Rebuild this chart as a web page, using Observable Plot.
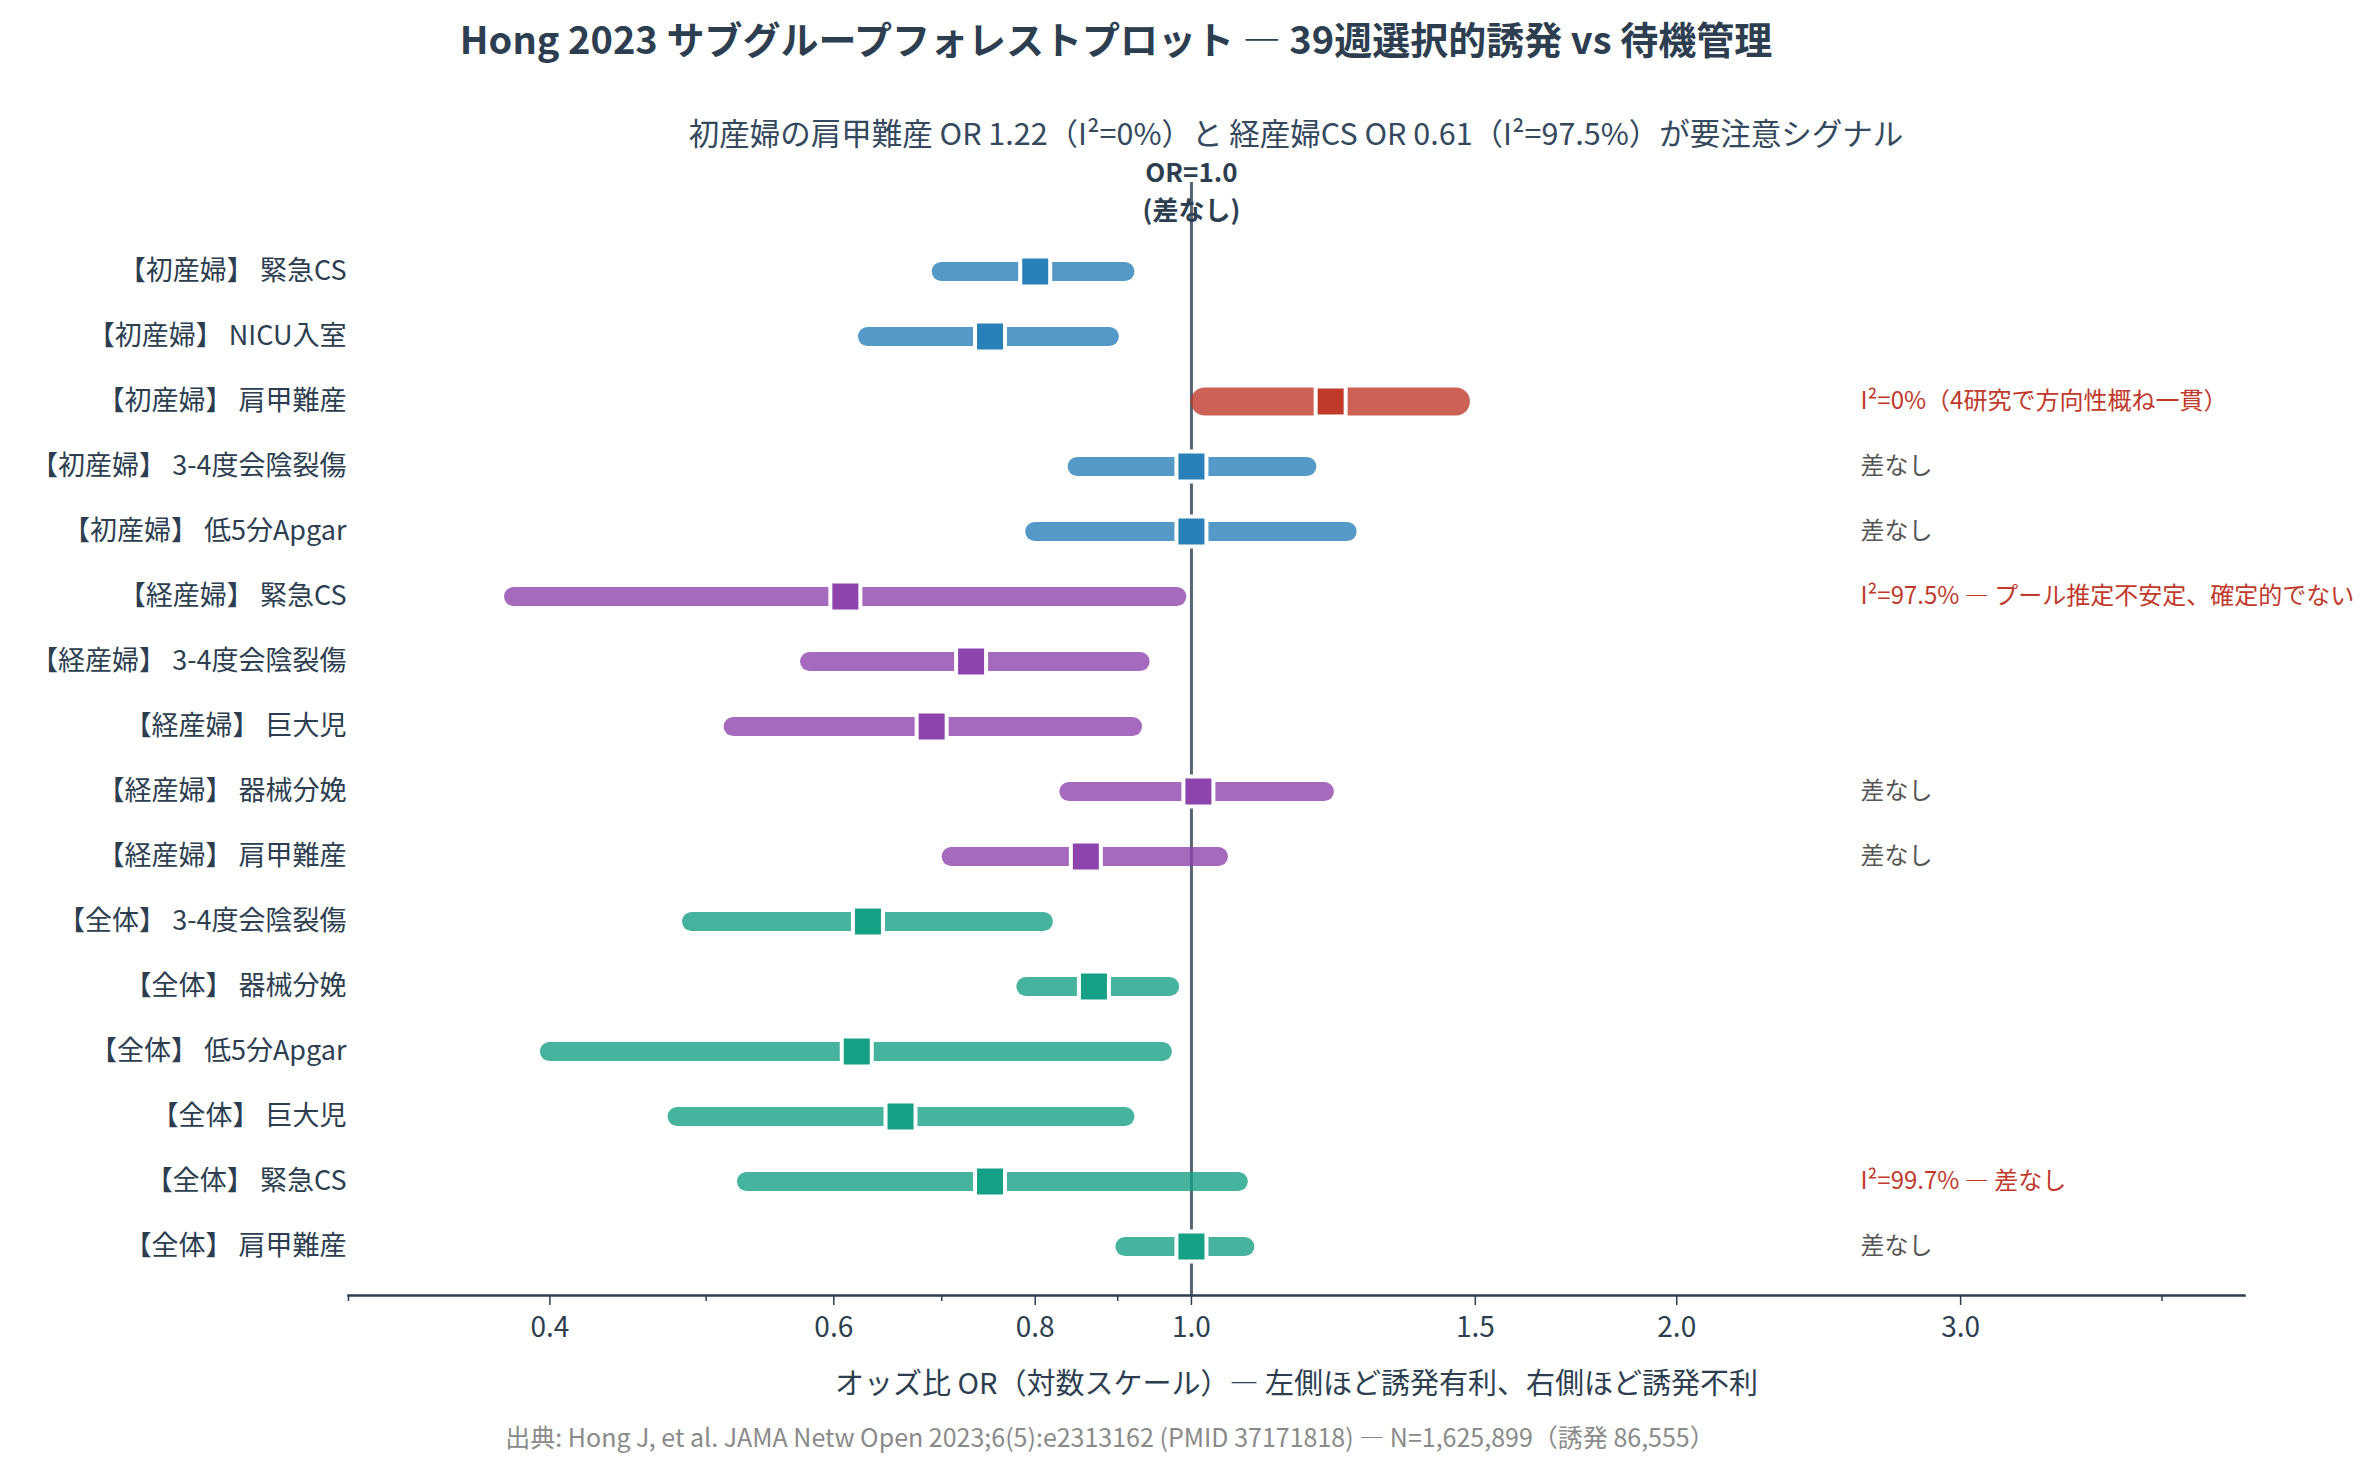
<!DOCTYPE html>
<html lang="ja">
<head>
<meta charset="utf-8">
<title>Hong 2023 サブグループフォレストプロット</title>
<script src="https://cdn.jsdelivr.net/npm/d3@7"></script>
<script src="https://cdn.jsdelivr.net/npm/@observablehq/plot@0.6"></script>
<style>
  body { margin: 0; background: #fff; font-family: "Noto Sans CJK JP", sans-serif; }
  #page { position: relative; width: 2380px; height: 1470px; overflow: hidden; background: #fff; }
  .t { position: absolute; white-space: nowrap; transform: translate(-50%, -50%); line-height: 1; }
  #title { left: 1116px; top: 38px; font-size: 38px; font-weight: 700; color: #2c3e50; }
  #subtitle { left: 1296px; top: 132px; font-size: 30.5px; color: #34495e; }
  #chart { position: absolute; left: 0; top: 150px; }
  #caption { left: 1110px; top: 1436px; font-size: 25px; color: #8a8a8a; }
</style>
</head>
<body>
<div id="page">
  <div id="title" class="t">Hong 2023 サブグループフォレストプロット — 39週選択的誘発 vs 待機管理</div>
  <div id="subtitle" class="t">初産婦の肩甲難産 OR 1.22（I²=0%）と 経産婦CS OR 0.61（I²=97.5%）が要注意シグナル</div>
  <div id="chart"></div>
  <div id="caption" class="t">出典: Hong J, et al. JAMA Netw Open 2023;6(5):e2313162 (PMID 37171818) — N=1,625,899（誘発 86,555）</div>
</div>
<script>
// Subgroup results, top to bottom
const groups = ["初産婦", "初産婦", "初産婦", "初産婦", "初産婦",
                "経産婦", "経産婦", "経産婦", "経産婦", "経産婦",
                "全体", "全体", "全体", "全体", "全体", "全体"];
const outcomes = ["緊急CS", "NICU入室", "肩甲難産", "3-4度会陰裂傷", "低5分Apgar",
                  "緊急CS", "3-4度会陰裂傷", "巨大児", "器械分娩", "肩甲難産",
                  "3-4度会陰裂傷", "器械分娩", "低5分Apgar", "巨大児", "緊急CS", "肩甲難産"];
const oddsRatio = [0.80, 0.75, 1.22, 1.00, 1.00,
                   0.61, 0.73, 0.69, 1.01, 0.86,
                   0.63, 0.87, 0.62, 0.66, 0.75, 1.00];
const ciLow = [0.70, 0.63, 1.02, 0.85, 0.80,
               0.38, 0.58, 0.52, 0.84, 0.71,
               0.49, 0.79, 0.40, 0.48, 0.53, 0.91];
const ciHigh = [0.91, 0.89, 1.46, 1.18, 1.25,
                0.98, 0.93, 0.92, 1.21, 1.04,
                0.81, 0.97, 0.96, 0.91, 1.07, 1.08];
const notes = ["", "", "I²=0%（4研究で方向性概ね一貫）", "差なし", "差なし",
               "I²=97.5% — プール推定不安定、確定的でない", "", "", "差なし", "差なし",
               "", "", "", "", "I²=99.7% — 差なし", "差なし"];
const signalRow = "【初産婦】 肩甲難産";
const majorTicks = [0.4, 0.6, 0.8, 1.0, 1.5, 2.0, 3.0];
const minorTicks = [0.3, 0.5, 0.7, 0.9, 4.0];

// Table for the marks
const labels = groups.map((g, i) => `【${g}】 ${outcomes[i]}`);
const rows = labels.map((label, i) => ({
  label, group: groups[i], or: oddsRatio[i], lo: ciLow[i], hi: ciHigh[i], note: notes[i]
}));

const groupColor = {"初産婦": "#2980b9", "経産婦": "#8e44ad", "全体": "#16a085"};
const alertColor = "#c0392b";
const colorOf = d => d.label === signalRow ? alertColor : groupColor[d.group];
const noteColumn = 2.6;   // OR position where the note column starts
const ink = "#2c3e50";

const chart = Plot.plot({
  width: 2380,
  height: 1270,
  marginLeft: 348,
  marginRight: 136,
  marginTop: 32,
  marginBottom: 125,
  insetTop: 51,
  insetBottom: 12,
  x: {type: "log", domain: [0.3, 4.5]},
  y: {type: "point", domain: labels, padding: 0.5},
  color: {type: "identity"},
  style: {fontFamily: "'Noto Sans CJK JP', sans-serif", fontSize: "27px", color: ink, background: "#fff"},
  marks: [
    // no-effect reference line
    Plot.ruleX([1], {stroke: "#566573", strokeWidth: 3}),
    Plot.text([{x: 1, t: "OR=1.0"}], {
      x: "x", text: "t", frameAnchor: "top", dy: -19,
      fontSize: 26, fontWeight: 700, fill: ink
    }),
    Plot.text([{x: 1, t: "(差なし)"}], {
      x: "x", text: "t", frameAnchor: "top", dy: 19,
      fontSize: 26, fontWeight: 700, fill: ink
    }),
    // confidence intervals
    Plot.ruleY(rows.filter(d => d.label !== signalRow), {
      y: "label", x1: "lo", x2: "hi", stroke: colorOf, strokeOpacity: 0.8,
      strokeWidth: 19, strokeLinecap: "round"
    }),
    Plot.ruleY(rows.filter(d => d.label === signalRow), {
      y: "label", x1: "lo", x2: "hi", stroke: colorOf, strokeOpacity: 0.8,
      strokeWidth: 28, strokeLinecap: "round"
    }),
    // point estimates
    Plot.dot(rows, {
      x: "or", y: "label", symbol: "square", r: 30 / Math.sqrt(Math.PI),
      fill: colorOf, stroke: "#fff", strokeWidth: 4
    }),
    // notes column
    Plot.text(rows.filter(d => d.note), {
      x: () => noteColumn, y: "label", text: "note", textAnchor: "start",
      fill: d => d.note.startsWith("I²") ? alertColor : "#555555", fontSize: 24
    }),
    // axes
    Plot.axisY({tickSize: 0, tickPadding: 2, fontSize: 27, label: null, fill: ink}),
    Plot.frame({anchor: "bottom", stroke: ink, strokeWidth: 2.5}),
    Plot.axisX({ticks: majorTicks, tickSize: 10, tickPadding: 12, tickFormat: d => d.toFixed(1),
                fontSize: 28, label: null, stroke: ink, strokeWidth: 1.5, fill: ink}),
    Plot.axisX({ticks: minorTicks, tickSize: 6, tickFormat: () => "", label: null,
                stroke: ink, strokeWidth: 1.5}),
    Plot.text(["オッズ比 OR（対数スケール）— 左側ほど誘発有利、右側ほど誘発不利"], {
      frameAnchor: "bottom", dy: 98, fontSize: 29, fill: ink
    })
  ]
});
document.getElementById("chart").appendChild(chart);
</script>
</body>
</html>
